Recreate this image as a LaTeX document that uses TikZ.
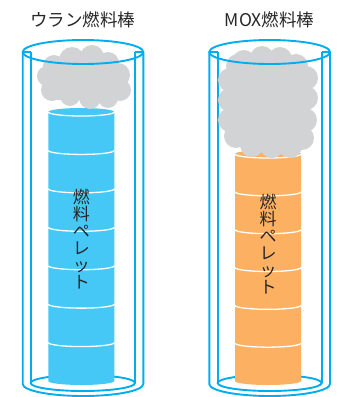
\documentclass[tikz,border=0pt]{standalone}
\usepackage{fontspec}
\setmainfont{Noto Sans CJK JP}
\usepackage{tikz}
\usepackage{xcolor}

\definecolor{tubeblue}{RGB}{0,174,239}
\definecolor{uranfill}{RGB}{69,200,245}
\definecolor{moxfill}{RGB}{252,176,98}
\definecolor{gasgray}{RGB}{209,211,212}
\definecolor{textgray}{RGB}{40,38,38}

\begin{document}
\begin{tikzpicture}[
        x=1pt, y=-1pt,
        tube/.style={draw=tubeblue, line width=1.9pt},
        seam/.style={draw=white, line width=1.3pt},
        gas/.style={fill=gasgray},
        title/.style={font=\fontsize{17.5}{20}\selectfont, text=textgray, inner sep=0pt},
        pellettext/.style={font=\fontsize{17}{17}\selectfont, text=textgray, align=center, inner sep=0pt}
    ]
        \useasboundingbox (0,0) rectangle (340,397);

        % Titles
        \node[title] (urantitle) at (83,20) {ウラン燃料棒};
        \node[title] (moxtitle) at (269.5,20) {MOX燃料棒};

        % Uranium rod: cladding walls and bottom
        \draw[tube] (22.7,52) -- (22.7,384) arc[start angle=180, end angle=0, x radius=60.3, y radius=12] -- (143.3,52);
        \draw[tube] (30.7,52) -- (30.7,383);
        \draw[tube] (135,52) -- (135,383);
        \draw[tube] (82.85,383) ellipse[x radius=52.15, y radius=8];

        % Uranium rod: pellet stack
        \fill[uranfill] (48.3,112) -- (48.3,381) arc[start angle=180, end angle=0, x radius=33, y radius=4]
            -- (114.3,112) arc[start angle=0, end angle=-180, x radius=33, y radius=4] -- cycle;
        \foreach \y in {112,150.43,188.86,227.29,265.71,304.14,342.57}
            \draw[seam] (48.3,\y) arc[start angle=180, end angle=0, x radius=33, y radius=4];

        % Uranium rod: gas
        \fill[gas] (50,62) rectangle (118,100);
        \foreach \cx/\cy/\r in {54/66/11, 72/60/13, 92/57/12, 108/63/11, 118/75/12, 120/90/11,
                               108/98/10, 90/98/11, 70/96/10, 52/90/11, 47/76/10}
            \fill[gas] (\cx,\cy) circle[radius=\r];

        % Uranium rod: top rim
        \draw[tube] (22.7,52) -- (30.7,52);
        \draw[tube] (135,52) -- (143.3,52);
        \draw[tube] (83,52) ellipse[x radius=60.3, y radius=12];

        \node[pellettext] (uranpellet) at (81.3,239) {燃\\料\\ペ\\レ\\ッ\\ト};

        % MOX rod: cladding walls and bottom
        \draw[tube] (209.3,52) -- (209.3,384) arc[start angle=180, end angle=0, x radius=60.35, y radius=12] -- (330,52);
        \draw[tube] (217.7,52) -- (217.7,383);
        \draw[tube] (321.7,52) -- (321.7,383);
        \draw[tube] (269.7,383) ellipse[x radius=52, y radius=8];

        % MOX rod: pellet stack
        \fill[moxfill] (235,154) -- (235,381) arc[start angle=180, end angle=0, x radius=33, y radius=4]
            -- (301,154) arc[start angle=0, end angle=-180, x radius=33, y radius=4] -- cycle;
        \foreach \y in {154,191.83,229.67,267.5,305.33,343.17}
            \draw[seam] (235,\y) arc[start angle=180, end angle=0, x radius=33, y radius=4];

        % MOX rod: gas
        \fill[gas] (236,64) rectangle (304,146);
        \foreach \cx/\cy/\r in {244/62/12, 262/58/12, 280/59/12, 296/66/12, 306/78/12, 306/98/12,
                               305/120/12, 302/138/12, 290/146/12, 272/146/12, 252/145/12,
                               236/136/12, 230/120/12, 230/100/12, 230/80/12, 238/66/12}
            \fill[gas] (\cx,\cy) circle[radius=\r];

        % MOX rod: top rim
        \draw[tube] (209.3,52) -- (217.7,52);
        \draw[tube] (321.7,52) -- (330,52);
        \draw[tube] (269.65,52) ellipse[x radius=60.35, y radius=12];

        \node[pellettext] (moxpellet) at (268,244.5) {燃\\料\\ペ\\レ\\ッ\\ト};
    \end{tikzpicture}
\end{document}
